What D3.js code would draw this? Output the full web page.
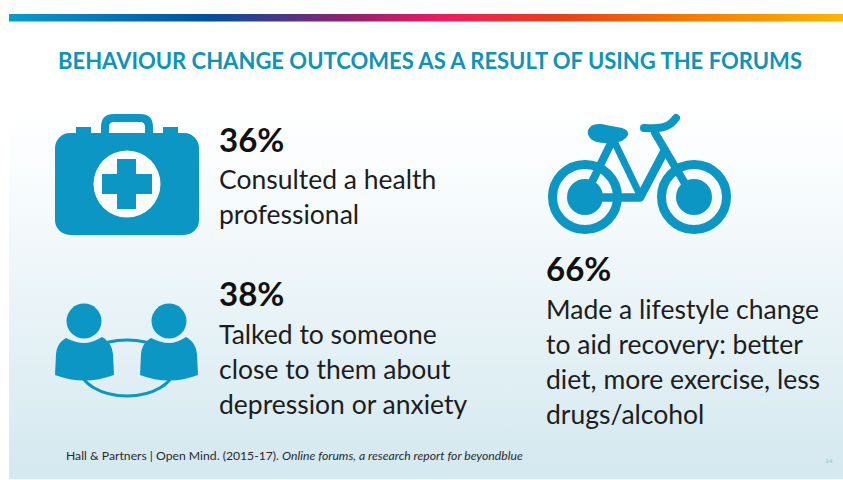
<!DOCTYPE html>
<html>
<head>
<meta charset="utf-8">
<script src="https://cdn.jsdelivr.net/npm/d3@7/dist/d3.min.js"></script>
<style>
html,body{margin:0;padding:0;background:#fff;}
svg{display:block;}
text{font-family:Lato,"Noto Sans",sans-serif;}
</style>
</head>
<body>
<div id="chart"></div>
<script>
// Survey figures and their captions
const titleText = "BEHAVIOUR CHANGE OUTCOMES AS A RESULT OF USING THE FORUMS";
const outcomeKeys = ["health", "someone", "lifestyle"];
const outcomePercents = [36, 38, 66];
const outcomeCaptions = [
  ["Consulted a health", "professional"],
  ["Talked to someone", "close to them about", "depression or anxiety"],
  ["Made a lifestyle change", "to aid recovery: better", "diet, more exercise, less", "drugs/alcohol"]
];
const sourcePlain = "Hall & Partners | Open Mind. (2015-17). ";
const sourceItalic = "Online forums, a research report for beyondblue";
const pageNumber = "14";

const W = 843, H = 480;
const BLUE = "#0b96c3", INK = "#1d1d1d";

const svg = d3.select("#chart").append("svg").attr("width", W).attr("height", H);
const defs = svg.append("defs");

// Slide background fades from white into pale blue
const bg = defs.append("linearGradient").attr("id", "bg").attr("x1", 0).attr("x2", 0).attr("y1", 0).attr("y2", 1);
[[0, "#ffffff"], [0.2, "#ffffff"], [0.35, "#f9fcfd"], [0.55, "#eef6f9"], [1, "#d3e8ef"]].forEach(([o, c]) =>
  bg.append("stop").attr("offset", o).attr("stop-color", c));
svg.append("rect").attr("x", 9).attr("y", 14).attr("width", W - 9).attr("height", 465).attr("fill", "url(#bg)");

// Rainbow strip across the top
const strip = defs.append("linearGradient").attr("id", "strip");
[[0, "#0a9ccd"], [0.24, "#00509c"], [0.4, "#8a2272"], [0.52, "#ee1a62"], [0.66, "#e6401a"], [0.82, "#f47c00"], [1, "#ffb400"]].forEach(([o, c]) =>
  strip.append("stop").attr("offset", o).attr("stop-color", c));
svg.append("rect").attr("x", 9).attr("y", 14).attr("width", W - 9).attr("height", 7.5).attr("fill", "url(#strip)");

svg.append("text").attr("x", 58).attr("y", 69)
  .attr("font-size", 22.6).attr("font-weight", 700).attr("fill", "#0f93b8")
  .attr("textLength", 744).attr("lengthAdjust", "spacingAndGlyphs").text(titleText);

// Text block placement for each outcome
const blockX = { health: 219, someone: 219, lifestyle: 546 };
const pctY = { health: 152, someone: 306, lifestyle: 281 };
const firstLineY = { health: 189, someone: 344, lifestyle: 319 };
const lineGap = 35;

const blocks = svg.selectAll("g.outcome")
  .data(outcomeKeys.map((k, i) => ({ key: k, pct: outcomePercents[i], lines: outcomeCaptions[i] })))
  .join("g").attr("class", "outcome");

blocks.append("text")
  .attr("x", d => blockX[d.key]).attr("y", d => pctY[d.key])
  .attr("font-size", 33).attr("font-weight", 700).attr("fill", "#111")
  .text(d => d.pct + "%");

blocks.each(function (d) {
  d3.select(this).selectAll("text.line").data(d.lines).join("text")
    .attr("class", "line")
    .attr("x", blockX[d.key])
    .attr("y", (_, i) => firstLineY[d.key] + i * lineGap)
    .attr("font-size", 26.5).attr("fill", INK)
    .text(t => t);
});

// First-aid case icon
const kit = svg.append("g").attr("fill", BLUE);
kit.append("path").attr("fill", "none").attr("stroke", BLUE).attr("stroke-width", 8)
  .attr("d", "M105,136V127Q105,118 114,118H140Q149,118 149,127V136");
kit.append("rect").attr("x", 76).attr("y", 127).attr("width", 15).attr("height", 10);
kit.append("rect").attr("x", 163).attr("y", 127).attr("width", 15).attr("height", 10);
kit.append("rect").attr("x", 55).attr("y", 133).attr("width", 144).attr("height", 102).attr("rx", 15);
kit.append("circle").attr("cx", 127).attr("cy", 184).attr("r", 33.5).attr("fill", "#fbfdfe");
kit.append("path").attr("d", "M117,159H136V174H152V194H136V209H117V194H102V174H117Z");

// Two people joined by a ring
const people = svg.append("g").attr("fill", BLUE);
people.append("ellipse").attr("cx", 127).attr("cy", 368).attr("rx", 47).attr("ry", 28)
  .attr("fill", "none").attr("stroke", BLUE).attr("stroke-width", 3);
[{ hx: 84, x0: 55, x1: 114 }, { hx: 169, x0: 140, x1: 198 }].forEach(p => {
  people.append("circle").attr("cx", p.hx).attr("cy", 321).attr("r", 17.5);
  people.append("path")
    .attr("d", `M${p.x0},375 L${p.x0 + 1},354 C${p.x0 + 2},345 ${p.x0 + 6},341 ${p.x0 + 11},338 Q${p.hx - 8},343 ${p.hx},343 Q${p.hx + 8},343 ${p.x1 - 12},337 C${p.x1 - 5},341 ${p.x1 - 2},346 ${p.x1 - 1},354 L${p.x1},375 Q${p.hx},386 ${p.x0},375Z`);
});

// Bicycle icon
const bike = svg.append("g");
[585, 694].forEach(cx => {
  bike.append("circle").attr("cx", cx).attr("cy", 197).attr("r", 32.5)
    .attr("fill", "none").attr("stroke", BLUE).attr("stroke-width", 9);
  bike.append("circle").attr("cx", cx).attr("cy", 197).attr("r", 18).attr("fill", BLUE);
});
const tube = (d, w) => bike.append("path").attr("d", d).attr("fill", "none")
  .attr("stroke", BLUE).attr("stroke-width", w).attr("stroke-linecap", "round").attr("stroke-linejoin", "round");
tube("M612,141L590,186", 8);
tube("M614,141L639,193", 7);
tube("M587,197.5H640L664,152", 8.5);
tube("M655,133L693,197", 8);
tube("M644,128C660,129 669,128 676,118", 8);
bike.append("path").attr("fill", BLUE)
  .attr("d", "M588,130Q591,123 601,124L622,128Q629,130 628,135Q625,142 612,143Q594,144 590,138Q587,134 588,130Z");

// Source line and page number
const src = svg.append("text").attr("x", 66).attr("y", 460).attr("font-size", 12.2).attr("fill", "#2a2a2a");
src.append("tspan").text(sourcePlain);
src.append("tspan").attr("font-style", "italic").text(sourceItalic);
svg.append("text").attr("x", 829).attr("y", 463).attr("font-size", 6).attr("fill", "#8fc3d4")
  .attr("text-anchor", "middle").text(pageNumber);
</script>
</body>
</html>
